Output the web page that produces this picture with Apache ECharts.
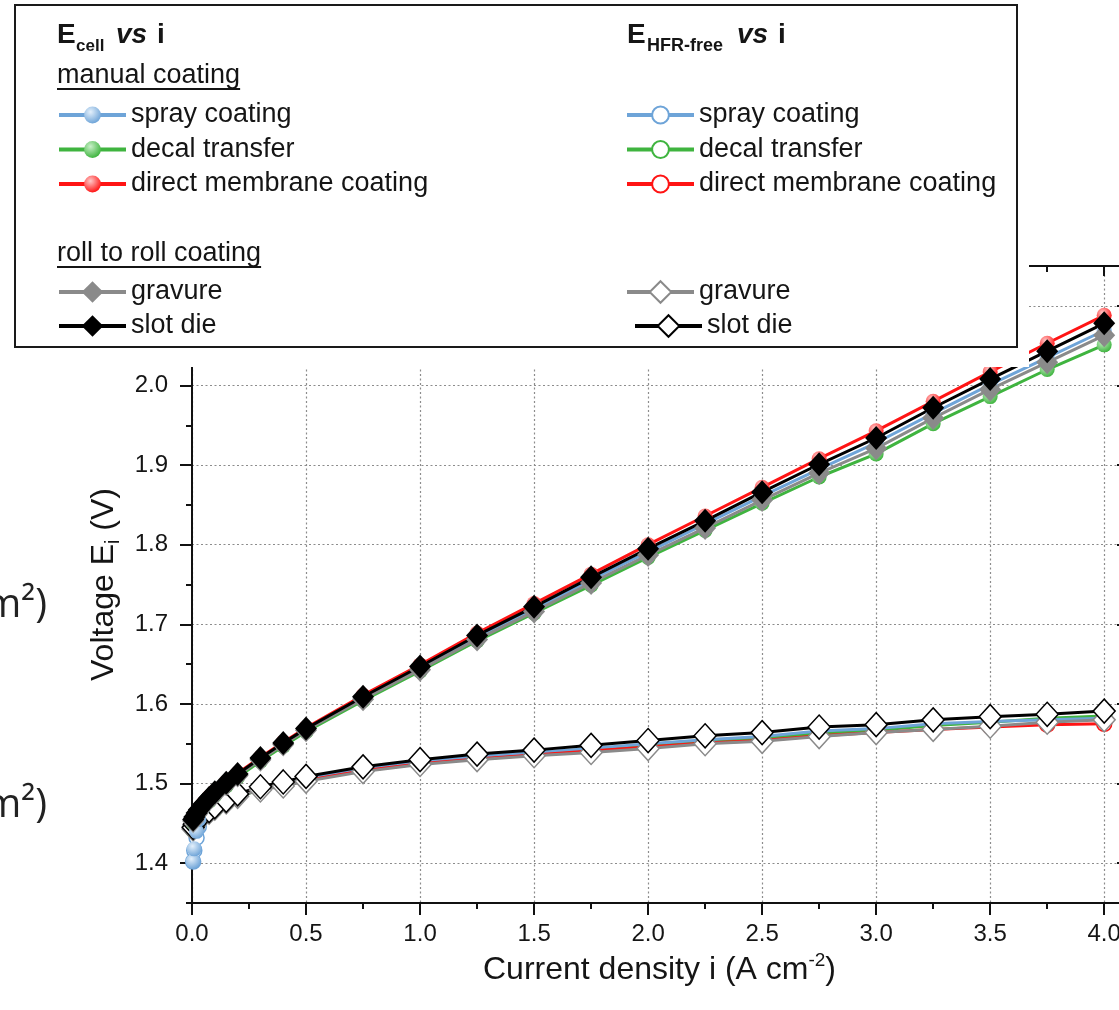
<!DOCTYPE html>
<html>
<head>
<meta charset="utf-8">
<script src="https://cdn.jsdelivr.net/npm/echarts@6/dist/echarts.min.js"></script>
<style>
html,body{margin:0;padding:0;background:#fff;}
#c{width:1119px;height:1010px;}
</style>
</head>
<body>
<div id="c"></div>
<script>
// ---------------- data ----------------
const current = [0.005, 0.01, 0.02, 0.03, 0.05, 0.075, 0.1, 0.15, 0.2, 0.3, 0.4, 0.5,
                 0.75, 1.0, 1.25, 1.5, 1.75, 2.0, 2.25, 2.5, 2.75, 3.0, 3.25, 3.5, 3.75, 4.0];

// E_cell vs i
const ecSpray   = [1.402, 1.418, 1.440, 1.455, 1.470, 1.480, 1.488, 1.500, 1.511, 1.531, 1.550, 1.568,
                   1.608, 1.645, 1.684, 1.719, 1.756, 1.791, 1.826, 1.861, 1.895, 1.928, 1.965, 2.001, 2.035, 2.069];
const ecDecal   = [1.451, 1.454, 1.459, 1.463, 1.470, 1.478, 1.485, 1.497, 1.508, 1.528, 1.547, 1.565,
                   1.604, 1.641, 1.679, 1.714, 1.749, 1.784, 1.818, 1.852, 1.885, 1.914, 1.952, 1.986, 2.020, 2.051];
const ecDirect  = [1.456, 1.459, 1.464, 1.468, 1.475, 1.483, 1.490, 1.502, 1.513, 1.533, 1.552, 1.570,
                   1.611, 1.649, 1.689, 1.726, 1.763, 1.800, 1.836, 1.872, 1.908, 1.943, 1.980, 2.017, 2.053, 2.088];
const ecGravure = [1.453, 1.456, 1.461, 1.465, 1.472, 1.480, 1.487, 1.499, 1.510, 1.530, 1.549, 1.567,
                   1.606, 1.643, 1.681, 1.716, 1.752, 1.787, 1.821, 1.856, 1.890, 1.921, 1.959, 1.995, 2.029, 2.063];
const ecSlotDie = [1.455, 1.458, 1.463, 1.467, 1.474, 1.482, 1.489, 1.501, 1.512, 1.532, 1.551, 1.569,
                   1.609, 1.647, 1.686, 1.722, 1.759, 1.795, 1.830, 1.866, 1.901, 1.934, 1.972, 2.008, 2.043, 2.078];

// E_HFR-free vs i
const hfSpray   = [1.402, 1.416, 1.432, 1.446, 1.458, 1.464, 1.470, 1.478, 1.486, 1.494, 1.500, 1.506,
                   1.518, 1.527, 1.534, 1.539, 1.544, 1.550, 1.555, 1.559, 1.566, 1.569, 1.575, 1.578, 1.580, 1.582];
const hfDecal   = [1.442, 1.446, 1.450, 1.454, 1.459, 1.463, 1.468, 1.476, 1.484, 1.492, 1.498, 1.504,
                   1.516, 1.525, 1.532, 1.537, 1.542, 1.548, 1.553, 1.557, 1.563, 1.567, 1.573, 1.577, 1.582, 1.585];
const hfDirect  = [1.444, 1.448, 1.452, 1.456, 1.461, 1.465, 1.470, 1.477, 1.485, 1.493, 1.498, 1.504,
                   1.516, 1.525, 1.531, 1.536, 1.541, 1.546, 1.551, 1.554, 1.560, 1.564, 1.568, 1.571, 1.574, 1.575];
const hfGravure = [1.443, 1.447, 1.451, 1.455, 1.460, 1.464, 1.469, 1.477, 1.484, 1.492, 1.497, 1.503,
                   1.515, 1.524, 1.530, 1.535, 1.539, 1.544, 1.550, 1.553, 1.559, 1.564, 1.568, 1.572, 1.577, 1.580];
const hfSlotDie = [1.445, 1.449, 1.453, 1.457, 1.462, 1.466, 1.471, 1.479, 1.487, 1.496, 1.502, 1.509,
                   1.521, 1.530, 1.537, 1.542, 1.548, 1.554, 1.560, 1.564, 1.571, 1.574, 1.580, 1.584, 1.587, 1.591];

// tick values
const xMajorTicks = [0, 0.5, 1.0, 1.5, 2.0, 2.5, 3.0, 3.5, 4.0];
const yMajorTicks = [1.4, 1.5, 1.6, 1.7, 1.8, 1.9, 2.0, 2.1];

// labels
const manualItems = ['spray coating', 'decal transfer', 'direct membrane coating'];
const rollItems = ['gravure', 'slot die'];

// ---------------- chart ----------------
const FONT = 'Liberation Sans';
const TXT = '#151515';
const BLUE = '#6ea4d8', GREEN = '#3fb43f', RED = '#ff1414', GRAY = '#8a8a8a', BLACK = '#000000';

function pairs(ys) { return current.map((x, i) => [x, ys[i]]); }
function ball(c, light) {
  return new echarts.graphic.RadialGradient(0.38, 0.32, 0.7, [
    { offset: 0, color: light }, { offset: 1, color: c }
  ]);
}
function textW(t, font) {
  const ctx = document.createElement('canvas').getContext('2d');
  ctx.font = font; return ctx.measureText(t).width;
}

function lineSeries(name, ys, lineColor, symbol, size, itemStyle) {
  return {
    name: name, type: 'line', data: pairs(ys),
    xAxisIndex: 0, yAxisIndex: 0,
    symbol: symbol, symbolSize: size,
    lineStyle: { color: lineColor, width: 3 },
    itemStyle: itemStyle,
    emphasis: { disabled: true }
  };
}

const series = [
  lineSeries('HFR: decal transfer', hfDecal, GREEN, 'circle', 15, { color: '#ffffff', borderColor: GREEN, borderWidth: 1.5 }),
  lineSeries('HFR: spray coating', hfSpray, BLUE, 'circle', 15, { color: '#ffffff', borderColor: BLUE, borderWidth: 1.5 }),
  lineSeries('HFR: direct membrane coating', hfDirect, RED, 'circle', 15, { color: '#ffffff', borderColor: RED, borderWidth: 1.5 }),
  lineSeries('HFR: gravure', hfGravure, GRAY, 'diamond', [22, 24], { color: '#ffffff', borderColor: GRAY, borderWidth: 1.5 }),
  lineSeries('HFR: slot die', hfSlotDie, BLACK, 'diamond', [22, 24], { color: '#ffffff', borderColor: BLACK, borderWidth: 1.5 }),
  lineSeries('Ecell: decal transfer', ecDecal, GREEN, 'circle', 15, { color: ball(GREEN, '#c8f0c8') }),
  lineSeries('Ecell: spray coating', ecSpray, BLUE, 'circle', 15, { color: ball(BLUE, '#e4f0fb') }),
  lineSeries('Ecell: direct membrane coating', ecDirect, RED, 'circle', 15, { color: ball(RED, '#ffc8c8') }),
  lineSeries('Ecell: gravure', ecGravure, GRAY, 'diamond', [22, 24], { color: GRAY }),
  lineSeries('Ecell: slot die', ecSlotDie, BLACK, 'diamond', [22, 24], { color: BLACK })
];

const legendBase = {
  orient: 'vertical', itemWidth: 67, padding: 0, selectedMode: false, z: 20,
  lineStyle: { width: 4 },
  textStyle: { fontSize: 27, fontFamily: FONT, color: TXT, lineHeight: 30 },
  formatter: n => n.split(': ')[1]
};
const legends = [
  Object.assign({}, legendBase, { data: manualItems.map(n => 'Ecell: ' + n), left: 57, top: 100, itemHeight: 21, itemGap: 4.5 }),
  Object.assign({}, legendBase, { data: rollItems.map(n => 'Ecell: ' + n), left: 57, top: 277, itemHeight: 27, itemGap: 4 }),
  Object.assign({}, legendBase, { data: manualItems.map(n => 'HFR: ' + n), left: 625, top: 100, itemHeight: 21, itemGap: 4.5 }),
  Object.assign({}, legendBase, { data: ['HFR: ' + rollItems[0]], left: 625, top: 277, itemHeight: 27, itemGap: 4 }),
  Object.assign({}, legendBase, { data: ['HFR: ' + rollItems[1]], left: 633, top: 311, itemHeight: 27, itemGap: 4 })
];

const axisLineStyle = { color: '#111', width: 2 };
const gridLine = { show: true, lineStyle: { color: '#8c8c8c', width: 1.2, type: [2, 2.5] } };
const XMIN = 0, XMAX = 4.1, YMIN = 1.35, YMAX = 2.15;

const fontUnder = '27px "' + FONT + '"';
const wManual = textW('manual coating', fontUnder);
const wRoll = textW('roll to roll coating', fontUnder);

function gText(x, y, text, font, extra) {
  return Object.assign({
    type: 'text', x: x, y: y, z: 12, silent: true,
    style: { text: text, font: font, fill: TXT, align: 'left', verticalAlign: 'middle' }
  }, extra || {});
}

const option = {
  animation: false,
  backgroundColor: '#ffffff',
  grid: { left: 192, top: 266, width: 935, height: 637, containLabel: false, outerBoundsMode: 'none' },
  xAxis: [
    {
      type: 'value', position: 'bottom', min: XMIN, max: XMAX, interval: 0.5,
      axisLine: { show: true, onZero: false, lineStyle: axisLineStyle },
      axisTick: { show: true, length: 12, customValues: xMajorTicks, lineStyle: { color: '#111', width: 2 } },
      axisLabel: { show: true, customValues: xMajorTicks, formatter: v => v.toFixed(1), fontSize: 24, fontFamily: FONT, color: TXT, margin: 19 },
      splitLine: gridLine,
      name: 'Current density i (A cm{sup|-2})',
      nameLocation: 'middle', nameGap: 40,
      nameTextStyle: {
        fontSize: 32, fontFamily: FONT, color: TXT,
        rich: { sup: { fontSize: 19, fontFamily: FONT, color: TXT, padding: [0, 0, 20, 0] } }
      }
    },
    {
      type: 'value', position: 'bottom', min: XMIN, max: XMAX, interval: 0.25,
      axisLine: { show: false }, axisTick: { show: true, length: 6, lineStyle: { color: '#111', width: 2 } },
      axisLabel: { show: false }, splitLine: { show: false }
    },
    {
      type: 'value', position: 'top', min: XMIN, max: XMAX, interval: 0.5,
      axisLine: { show: true, onZero: false, lineStyle: axisLineStyle },
      axisTick: { show: true, inside: true, length: 10, customValues: xMajorTicks, lineStyle: { color: '#111', width: 2 } },
      axisLabel: { show: false }, splitLine: { show: false }
    },
    {
      type: 'value', position: 'top', min: XMIN, max: XMAX, interval: 0.25,
      axisLine: { show: false }, axisTick: { show: true, inside: true, length: 6, lineStyle: { color: '#111', width: 2 } },
      axisLabel: { show: false }, splitLine: { show: false }
    }
  ],
  yAxis: [
    {
      type: 'value', position: 'left', min: YMIN, max: YMAX, splitNumber: 8,
      axisLine: { show: true, onZero: false, lineStyle: axisLineStyle },
      axisTick: { show: true, length: 12, customValues: yMajorTicks, lineStyle: { color: '#111', width: 2 } },
      axisLabel: { show: true, customValues: yMajorTicks,
                   formatter: v => v.toFixed(1), fontSize: 24, fontFamily: FONT, color: TXT, margin: 24 },
      splitLine: gridLine,
      name: '{n|Voltage E}{s|i}{n| (V)}',
      nameLocation: 'middle', nameGap: 68, nameRotate: 90,
      nameTextStyle: {
        fontSize: 32, fontFamily: FONT, color: TXT,
        rich: {
          n: { fontSize: 32, fontFamily: FONT, color: TXT },
          s: { fontSize: 20, fontFamily: FONT, color: TXT, padding: [20, 0, 0, 0] }
        }
      }
    },
    {
      type: 'value', position: 'left', min: YMIN, max: YMAX, interval: 0.05,
      axisLine: { show: false }, axisTick: { show: true, length: 6, lineStyle: { color: '#111', width: 2 } },
      axisLabel: { show: false }, splitLine: { show: false }
    },
    {
      type: 'value', position: 'right', min: YMIN, max: YMAX, splitNumber: 8,
      axisLine: { show: true, onZero: false, lineStyle: axisLineStyle },
      axisTick: { show: true, inside: true, length: 10, customValues: yMajorTicks, lineStyle: { color: '#111', width: 2 } },
      axisLabel: { show: false }, splitLine: { show: false }
    },
    {
      type: 'value', position: 'right', min: YMIN, max: YMAX, interval: 0.05,
      axisLine: { show: false }, axisTick: { show: true, inside: true, length: 6, lineStyle: { color: '#111', width: 2 } },
      axisLabel: { show: false }, splitLine: { show: false }
    }
  ],
  legend: legends,
  graphic: [
    // white margin around the legend frame covering the plot corner
    { type: 'rect', z: 10, silent: true, shape: { x: 0, y: 0, width: 1029, height: 367 }, style: { fill: '#ffffff' } },
    { type: 'rect', z: 11, silent: true, shape: { x: 15, y: 5, width: 1002, height: 342 }, style: { fill: '#ffffff', stroke: '#1a1a1a', lineWidth: 2 } },
    // headers
    gText(57, 35, 'E', 'bold 28px "' + FONT + '"'),
    gText(76, 46, 'cell', 'bold 17px "' + FONT + '"'),
    gText(116, 35, 'vs', 'italic bold 28px "' + FONT + '"'),
    gText(157, 35, 'i', 'bold 28px "' + FONT + '"'),
    gText(627, 35, 'E', 'bold 28px "' + FONT + '"'),
    gText(647, 46, 'HFR-free', 'bold 18px "' + FONT + '"'),
    gText(737, 35, 'vs', 'italic bold 28px "' + FONT + '"'),
    gText(778, 35, 'i', 'bold 28px "' + FONT + '"'),
    // group sub headings
    gText(57, 76, 'manual coating', fontUnder),
    { type: 'line', z: 12, silent: true, shape: { x1: 57, y1: 89, x2: 57 + wManual, y2: 89 }, style: { stroke: TXT, lineWidth: 2 } },
    gText(57, 254, 'roll to roll coating', fontUnder),
    { type: 'line', z: 12, silent: true, shape: { x1: 57, y1: 267, x2: 57 + wRoll, y2: 267 }, style: { stroke: TXT, lineWidth: 2 } },
    // cut-off labels from the neighbouring panel
    { type: 'text', x: 47, y: 606, z: 12, silent: true, style: { text: 'cm²)', font: '40px "Open Sans"', fill: '#222', align: 'right', verticalAlign: 'middle' } },
    { type: 'text', x: 47, y: 806, z: 12, silent: true, style: { text: 'cm²)', font: '40px "Open Sans"', fill: '#222', align: 'right', verticalAlign: 'middle' } }
  ],
  series: series
};

const chart = echarts.init(document.getElementById('c'), null, { renderer: 'canvas' });
chart.setOption(option);
</script>
</body>
</html>
